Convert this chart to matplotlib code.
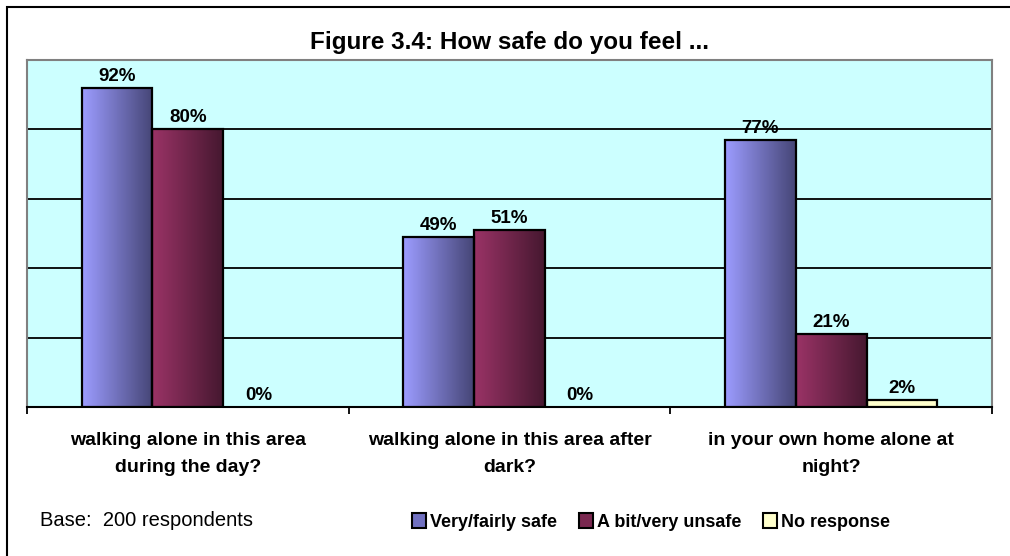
import numpy as np
import matplotlib
matplotlib.use('Agg')
import matplotlib.pyplot as plt
from matplotlib.colors import LinearSegmentedColormap
from matplotlib.patches import Patch, Rectangle

plt.rcParams['font.family'] = ['Liberation Sans', 'DejaVu Sans']

categories = ['walking alone in this area\nduring the day?',
              'walking alone in this area after\ndark?',
              'in your own home alone at\nnight?']
series = ['Very/fairly safe', 'A bit/very unsafe', 'No response']
very_safe = [92, 49, 77]
unsafe = [80, 51, 21]
no_response = [0, 0, 2]
values = [very_safe, unsafe, no_response]

# gradient (left light -> right dark) per series
grad_colors = [('#9c9cff', '#464677'), ('#9a3366', '#461830'), ('#ffffcc', '#ffffcc')]
legend_colors = ['#7070c0', '#7a2850', '#ffffcc']


def gradient_bar(ax, x, h, w, c1, c2):
    if h <= 0:
        return
    cmap = LinearSegmentedColormap.from_list('g', [c1, c2])
    grad = np.linspace(0, 1, 64).reshape(1, -1)
    ax.imshow(grad, cmap=cmap, aspect='auto', extent=(x - w / 2, x + w / 2, 0, h),
              zorder=3, interpolation='bicubic')
    ax.add_patch(Rectangle((x - w / 2, 0), w, h, facecolor='none', edgecolor='black',
                           linewidth=1.6, zorder=4))


fig = plt.figure(figsize=(10.1, 5.56), dpi=100)
W, H = 1010, 556

# outer chart border (cropped at right/bottom)
fig.patches.append(Rectangle((7 / W, -0.05), 1.1, 1.05 - 7 / H, transform=fig.transFigure,
                             facecolor='none', edgecolor='black', linewidth=1.5))

ax = fig.add_axes([27 / W, (H - 407) / H, 965 / W, 347 / H])
ax.set_facecolor('#ccffff')

bw = 0.22
x = np.arange(len(categories))
for i, vals in enumerate(values):
    c1, c2 = grad_colors[i]
    for j, v in enumerate(vals):
        xi = x[j] + (i - 1) * bw
        gradient_bar(ax, xi, v, bw, c1, c2)
        ax.text(xi, v + 0.9, f'{v}%', ha='center', va='bottom', fontsize=13.5,
                fontweight='bold', zorder=5)

ax.set_xlim(-0.5, 2.5)
ax.set_ylim(0, 100)
for g in [20, 40, 60, 80]:
    ax.axhline(g, color='black', linewidth=1.3, zorder=1)

ax.set_yticks([])
ax.set_xticks([-0.5, 0.5, 1.5, 2.5])
ax.set_xticklabels([])
ax.tick_params(axis='x', direction='out', length=5, width=1.3, color='black')
for s in ['left', 'top', 'right']:
    ax.spines[s].set_color('#808080')
    ax.spines[s].set_linewidth(1.5)
ax.spines['bottom'].set_color('black')
ax.spines['bottom'].set_linewidth(1.5)

for j, lab in enumerate(categories):
    ax.text(x[j], -7.3, lab, ha='center', va='top', fontsize=14, fontweight='bold',
            linespacing=1.75)

fig.text(509 / W, 1 - 42 / H, 'Figure 3.4: How safe do you feel ...', ha='center',
         va='center', fontsize=17.5, fontweight='bold')
fig.text(40 / W, 1 - 521 / H, 'Base:  200 respondents', ha='left', va='center', fontsize=14.5)

handles = [Patch(facecolor=legend_colors[i], edgecolor='black', linewidth=1.5) for i in range(3)]
leg = fig.legend(handles, series, loc='center left', bbox_to_anchor=(396 / W, 1 - 522 / H),
                 ncol=3, frameon=False, handlelength=0.75, handleheight=0.85,
                 handletextpad=0.25, columnspacing=1.2,
                 prop={'size': 13, 'weight': 'bold'})

fig.savefig('out.png', dpi=100)
